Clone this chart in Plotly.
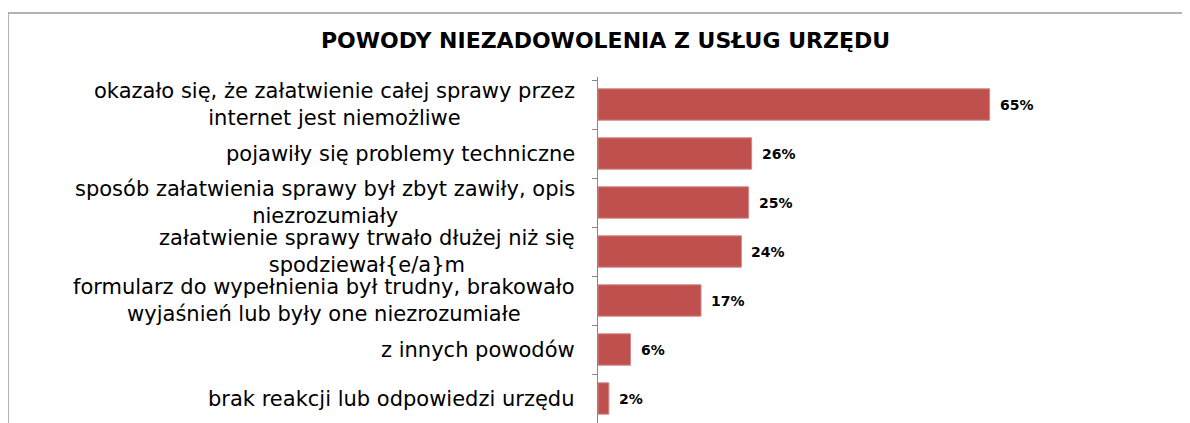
import plotly.graph_objects as go

title = "POWODY NIEZADOWOLENIA Z USŁUG URZĘDU"
categories = [
    "okazało się, że załatwienie całej sprawy przez<br>internet jest niemożliwe",
    "pojawiły się problemy techniczne",
    "sposób załatwienia sprawy był zbyt zawiły, opis<br>niezrozumiały",
    "załatwienie sprawy trwało dłużej niż się<br>spodziewał{e/a}m",
    "formularz do wypełnienia był trudny, brakowało<br>wyjaśnień lub były one niezrozumiałe",
    "z innych powodów",
    "brak reakcji lub odpowiedzi urzędu",
]
values = [65, 25.5, 25, 23.8, 17.1, 5.4, 1.8]
value_labels = ["65%", "26%", "25%", "24%", "17%", "6%", "2%"]

BAR = "#C0504D"
cat_ids = [f"c{i}" for i in range(len(categories))]

# the page places the figure 8px from the top-left corner
OFF = 8
W, H = 1190 - OFF, 423 - OFF
L, R, T, B = 598 - OFF, 110, 77 - OFF, 0
pw, ph = W - L - R, H - T - B

def px(page_x):
    return (page_x - OFF - L) / pw

def py(page_y):
    return (H - B - (page_y - OFF)) / ph

fig = go.Figure()
fig.add_trace(go.Bar(
    x=values, y=cat_ids, orientation="h",
    marker=dict(color=BAR, line=dict(color="#D08A88", width=1)),
    hoverinfo="skip",
))

annotations = []
for cid, lab in zip(cat_ids, categories):
    annotations.append(dict(
        x=0, xref="paper", y=cid, yref="y", text=lab, showarrow=False,
        xanchor="right", yanchor="middle", align="center", xshift=-21,
        font=dict(family="DejaVu Sans", size=21, color="#000000"),
    ))
for cid, v, t in zip(cat_ids, values, value_labels):
    annotations.append(dict(
        x=v, xref="x", y=cid, yref="y", text=t, showarrow=False,
        xanchor="left", yanchor="middle", xshift=8,
        font=dict(family="DejaVu Sans", size=14, color="#000000", weight="bold"),
    ))
annotations.append(dict(
    x=px(605), xref="paper", y=py(41), yref="paper", text=f"<b>{title}</b>", showarrow=False,
    xanchor="center", yanchor="middle",
    font=dict(family="DejaVu Sans", size=22, color="#000000"),
))

shapes = [
    dict(type="line", xref="paper", yref="paper", x0=px(8), x1=px(1200), y0=py(13), y1=py(13),
         line=dict(color="#9A9A9A", width=1.5)),
    dict(type="line", xref="paper", yref="paper", x0=px(8), x1=px(8), y0=py(13), y1=py(440),
         line=dict(color="#9A9A9A", width=1.5)),
]

fig.update_layout(
    width=W, height=H,
    margin=dict(l=L, r=R, t=T, b=B),
    paper_bgcolor="white", plot_bgcolor="white",
    showlegend=False, bargap=0.36,
    annotations=annotations, shapes=shapes,
    xaxis=dict(range=[0, 80], visible=False, fixedrange=True),
    yaxis=dict(categoryorder="array", categoryarray=cat_ids, autorange="reversed",
               showticklabels=False, ticks="outside", ticklen=5, tickcolor="#868686",
               tickson="boundaries", showline=True, linecolor="#868686", linewidth=1,
               showgrid=False, zeroline=False, fixedrange=True),
)
fig.write_html("out.html")
